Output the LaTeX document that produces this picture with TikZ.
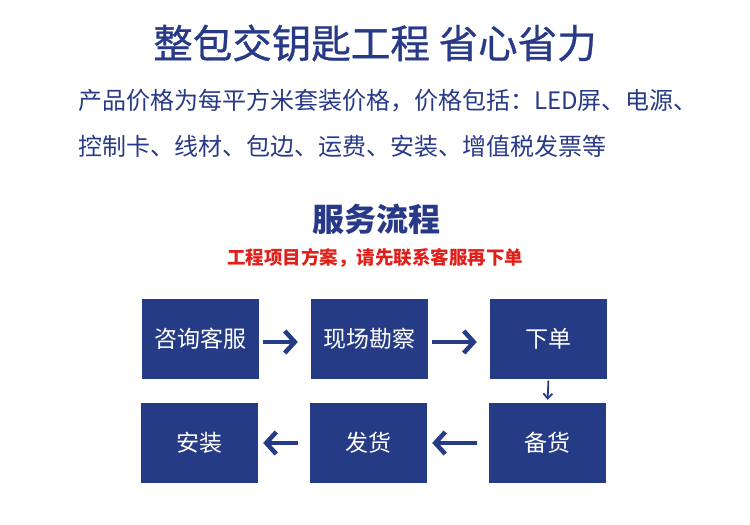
\documentclass[tikz,border=0pt]{standalone}
\usepackage{fontspec}
\setmainfont{Noto Sans CJK SC}
\newfontfamily\cjk{Noto Sans CJK SC}
\newfontfamily\cjkmed[FakeBold=0.8]{Noto Sans CJK SC}
\usetikzlibrary{arrows.meta}
\definecolor{navy}{HTML}{263B85}
\definecolor{titleblue}{HTML}{283A87}
\definecolor{redtxt}{HTML}{E0201A}
\tikzset{
  stepbox/.style={fill=navy, draw=none, minimum width=117pt, minimum height=80pt, inner sep=0pt,
     text=white, font=\cjk\fontsize{23}{23}\selectfont},
  txt/.style={inner sep=0pt},
  bigarrow/.style={draw=navy, line width=4pt, -{Straight Barb[length=10pt,width=22pt,line width=4.5pt]}},
  smallarrow/.style={draw=navy, line width=1.8pt, -{Straight Barb[length=5pt,width=9pt,line width=1.8pt]}}
}
\begin{document}
\begin{tikzpicture}[x=1pt,y=-1pt]
\useasboundingbox (0,0) rectangle (750,525);
\node[txt, text=titleblue, font=\cjkmed\fontsize{39.5}{39.5}\selectfont] (title) at (375,43) {整包交钥匙工程 省心省力};
\node[txt, anchor=west, text=titleblue, font=\cjk\fontsize{24}{24}\selectfont] (l1) at (78,101) {产品价格为每平方米套装价格，价格包括：LED屏、电源、};
\node[txt, anchor=west, text=titleblue, font=\cjk\fontsize{24}{24}\selectfont] (l2) at (78,146) {控制卡、线材、包边、运费、安装、增值税发票等};
\node[txt, text=titleblue, font=\cjk\bfseries\fontsize{32}{32}\selectfont] (sub) at (376,219) {服务流程};
\node[txt, text=redtxt, font=\cjk\bfseries\fontsize{18.5}{18.5}\selectfont] (note) at (375,258) {工程项目方案，请先联系客服再下单};

\node[stepbox] (b1) at (200.5,338.5) {咨询客服};
\node[stepbox] (b2) at (369.5,338.5) {现场勘察};
\node[stepbox] (b3) at (548.5,338.5) {下单};
\node[stepbox] (b4) at (199.5,443) {安装};
\node[stepbox] (b5) at (368.5,443) {发货};
\node[stepbox] (b6) at (547.5,443) {备货};

\draw[bigarrow, shorten <=4pt, shorten >=13pt] (b1.east |- 0,342) -- (b2.west |- 0,342);
\draw[bigarrow, shorten <=4pt, shorten >=13pt] (b2.east |- 0,342) -- (b3.west |- 0,342);
\draw[smallarrow, shorten <=2pt, shorten >=3pt] (b3.south) -- (b6.north);
\draw[bigarrow, shorten <=12pt, shorten >=5pt] (b6.west) -- (b5.east);
\draw[bigarrow, shorten <=12pt, shorten >=5pt] (b5.west) -- (b4.east);
\end{tikzpicture}
\end{document}
